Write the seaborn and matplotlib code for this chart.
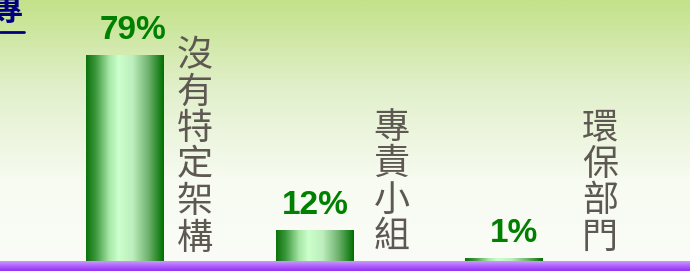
import numpy as np
import pandas as pd
import matplotlib
matplotlib.use("Agg")
import matplotlib.pyplot as plt
import seaborn as sns
from matplotlib.colors import LinearSegmentedColormap

categories = ["沒有特定架構", "專責小組", "環保部門"]
values = [79, 12, 1]
value_labels = ["79%", "12%", "1%"]
title_fragment = "專"

sns.set_theme(style="white")
plt.rcParams['font.family'] = ['Noto Sans CJK TC', 'DejaVu Sans']

W, H, DPI = 690, 271, 100
fig = plt.figure(figsize=(W / DPI, H / DPI), dpi=DPI)

# background gradient
bg = fig.add_axes([0, 0, 1, 1])
bg_cmap = LinearSegmentedColormap.from_list("bg", ["#C3E28A", "#E2F0CC", "#F7FBF1", "#FBFCF8"])
bg.imshow(np.linspace(0, 1, 256).reshape(-1, 1), aspect="auto", cmap=bg_cmap,
          extent=[0, 1, 0, 1], origin="upper")
bg.set_axis_off()

ax = fig.add_axes([0, 0, 1, 1])
ax.patch.set_alpha(0)
df = pd.DataFrame({"cat": categories, "val": values})
sns.barplot(data=df, x="cat", y="val", ax=ax, width=0.41, color="#1a8a1a",
            saturation=1, edgecolor="none")

px_per_unit = 189.5
ppu_y = 2.61
x0 = -125 / px_per_unit
x1 = (690 - 125) / px_per_unit
ylo = -10 / ppu_y
ax.set_axis_off()

bar_cmap = LinearSegmentedColormap.from_list(
    "bar", [(0, "#0B730B"), (0.12, "#3A963A"), (0.3, "#A8E8A8"), (0.42, "#CCFFCC"),
            (0.6, "#BDEEBD"), (0.8, "#6FB36F"), (1.0, "#007000")])
grad = np.linspace(0, 1, 256).reshape(1, -1)
for patch in ax.patches:
    x, w, h = patch.get_x(), patch.get_width(), patch.get_height()
    im = ax.imshow(grad, aspect="auto", cmap=bar_cmap, extent=[x, x + w, 0, h],
                   origin="lower", zorder=2)
    im.set_clip_path(patch)
    patch.set_facecolor("none")

# baseline purple band
band_cmap = LinearSegmentedColormap.from_list("band", ["#9630F8", "#AD60FA", "#C99BFC"])
ax.imshow(np.linspace(0, 1, 64).reshape(-1, 1), aspect="auto", cmap=band_cmap,
          extent=[x0, x1, 0, ylo], origin="upper", zorder=3)
ax.set_xlim(x0, x1)
ax.set_ylim(ylo, 100)

label_dx = [8 / px_per_unit, 0.5 / px_per_unit, 10 / px_per_unit]
for i, (v, lab, dx) in enumerate(zip(values, value_labels, label_dx)):
    ax.text(i + dx, v + 3.5, lab, ha="center", va="bottom", color="#008000",
            fontsize=24, fontweight="bold", family=["Liberation Sans", "DejaVu Sans"])

label_x = [70 / px_per_unit, 1 + 77 / px_per_unit, 2 + 96 / px_per_unit]
label_top = [85.5, 58.0, 57.8]
for lx, lt, cat in zip(label_x, label_top, categories):
    ax.text(lx, lt, "\n".join(cat), ha="center", va="top", color="#5E5852",
            fontsize=26, linespacing=1.02, fontweight="medium")

fig.text(23 / W, 1 - 27 / H, title_fragment, ha="right", va="bottom", color="#000080",
         fontsize=24, fontweight="bold")
fig.add_artist(plt.Line2D([0, 24 / W], [1 - 32 / H, 1 - 32 / H], color="#000080", lw=2))

fig.savefig("out.png", dpi=DPI)
